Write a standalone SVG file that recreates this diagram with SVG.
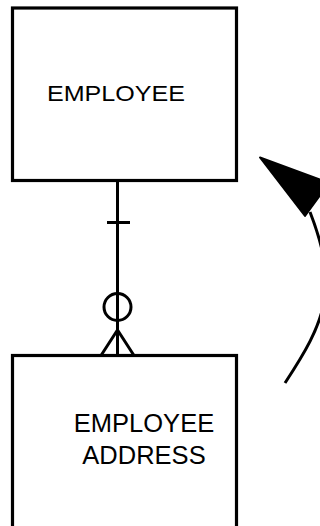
<svg xmlns="http://www.w3.org/2000/svg" width="320" height="526" viewBox="0 0 320 526">
<style>
.box{fill:#fff;stroke:#000;stroke-width:3.2}
.ln{fill:none;stroke:#000;stroke-width:3}
.t{font-family:"Liberation Sans",Arial,sans-serif;fill:#000}
</style>
<rect x="0" y="0" width="320" height="526" fill="#fff"/>
<g id="employee">
<rect class="box" x="12.5" y="8" width="224" height="172.5"/>
<text class="t" x="47" y="100.5" font-size="22" textLength="138" lengthAdjust="spacingAndGlyphs">EMPLOYEE</text>
</g>
<g id="employee-address">
<rect class="box" x="12.5" y="355.5" width="224" height="200"/>
<text class="t" x="144" y="431.5" font-size="25.5" text-anchor="middle">EMPLOYEE</text>
<text class="t" x="144" y="464" font-size="25.5" text-anchor="middle">ADDRESS</text>
</g>
<g id="connectors">
<line class="ln" x1="117.5" y1="180" x2="117.5" y2="355"/>
<line class="ln" x1="107" y1="222.5" x2="130" y2="222.5"/>
<circle class="ln" cx="117.5" cy="307" r="13.5"/>
<polyline class="ln" points="101,355.5 117.5,330 134,355.5"/>
<path class="ln" d="M285,383 C325,322 340,289 310,212"/>
<polygon points="260,157.5 305,216 329,183" fill="#000" stroke="#000" stroke-width="2" stroke-linejoin="round"/>
</g>
</svg>
